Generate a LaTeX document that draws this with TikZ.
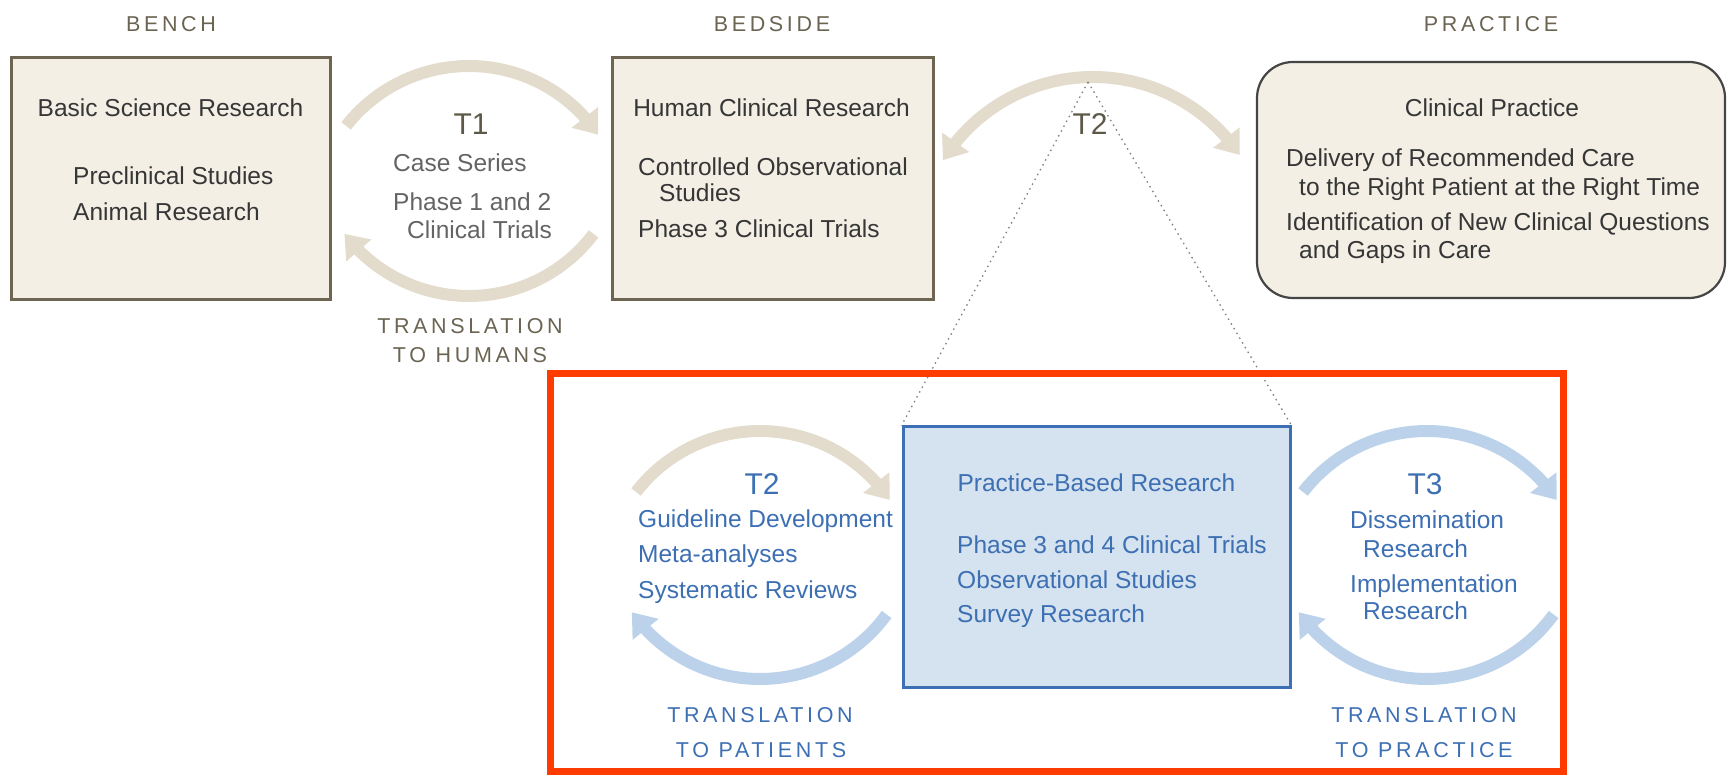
\documentclass[tikz,border=0pt]{standalone}
\usepackage{fontspec}
\setmainfont{Liberation Sans}
\newfontfamily\capsfont[LetterSpace=17]{Liberation Sans}
\usetikzlibrary{arrows.meta,bending}

\definecolor{tanfill}{HTML}{F3EFE5}
\definecolor{tanline}{HTML}{6E6452}
\definecolor{tanarrow}{HTML}{E3DCCD}
\definecolor{headbrown}{HTML}{6B6452}
\definecolor{tlabel}{HTML}{5D5848}
\definecolor{boxtext}{HTML}{363636}
\definecolor{cycletext}{HTML}{646464}
\definecolor{cpline}{HTML}{454545}
\definecolor{bluefill}{HTML}{D5E2EF}
\definecolor{blueline}{HTML}{3C6FB4}
\definecolor{bluetext}{HTML}{3D6FB3}
\definecolor{bluearrow}{HTML}{BCD2EA}
\definecolor{redframe}{HTML}{FF3B00}

\tikzset{
  tanbox/.style={draw=tanline, fill=tanfill, line width=3pt, minimum height=242pt},
  bluebox/.style={draw=blueline, fill=bluefill, line width=3pt},
  txt/.style={inner sep=0pt, font=\fontsize{24.5}{29}\selectfont},
  headtxt/.style={inner sep=0pt, anchor=base, text=headbrown, font=\capsfont\fontsize{21.5}{26}\selectfont},
  tnum/.style={inner sep=0pt, anchor=base, font=\fontsize{30}{36}\selectfont},
  tanarc/.style={draw=tanarrow, line width=12pt, -{Triangle[length=22pt,width=32pt]}},
  bluearc/.style={draw=bluearrow, line width=12pt, -{Triangle[length=22pt,width=32pt]}},
  zoomline/.style={draw=gray, line width=1.3pt, dash pattern=on 1.5pt off 4pt}
}

\begin{document}
\begin{tikzpicture}[x=1pt,y=1pt]
\useasboundingbox (0,0) rectangle (1731,775);

% column heads
\node[headtxt] (bench) at (171,743) {BENCH};
\node[headtxt] (bedside) at (772,743) {BEDSIDE};
\node[headtxt] (practice) at (1491,743) {PRACTICE};

% upper boxes
\node[tanbox, minimum width=319pt] (bsr) at (170.5,596) {};
\node[txt, anchor=base, text=boxtext] (bsrtitle) at (170.5,658) {Basic Science Research};
\node[txt, anchor=base west, text=boxtext] (precl) at (73,590) {Preclinical Studies};
\node[txt, anchor=base west, text=boxtext] (animal) at (73,554) {Animal Research};

\node[tanbox, minimum width=321pt] (hcr) at (772.5,596) {};
\node[txt, anchor=base, text=boxtext] (hcrtitle) at (771.5,658) {Human Clinical Research};
\node[txt, anchor=base west, text=boxtext] (cos) at (638,599) {Controlled Observational};
\node[txt, anchor=base west, text=boxtext] (cos2) at (659,573) {Studies};
\node[txt, anchor=base west, text=boxtext] (ph3) at (638,537) {Phase 3 Clinical Trials};

\node[tanbox, draw=cpline, line width=2.2pt, rounded corners=36pt,
      minimum width=468pt, minimum height=236pt] (cp) at (1491,595) {};
\node[txt, anchor=base, text=boxtext] (cptitle) at (1492,658) {Clinical Practice};
\node[txt, anchor=base west, text=boxtext] (deliv) at (1286,608) {Delivery of Recommended Care};
\node[txt, anchor=base west, text=boxtext] (deliv2) at (1299,579) {to the Right Patient at the Right Time};
\node[txt, anchor=base west, text=boxtext] (ident) at (1286,544) {Identification of New Clinical Questions};
\node[txt, anchor=base west, text=boxtext] (ident2) at (1299,516) {and Gaps in Care};

% T1 cycle
\coordinate (t1up) at (469,553);
\coordinate (t1dn) at (469,635);
\draw[tanarc] (t1up) ++(142:156) arc[start angle=142, end angle=34, radius=156];
\draw[tanarc] (t1dn) ++(-37:156) arc[start angle=-37, end angle=-143, radius=156];
\node[tnum, text=tlabel] (tone) at (471,640) {T1};
\node[txt, anchor=base west, text=cycletext] (case) at (393,603) {Case Series};
\node[txt, anchor=base west, text=cycletext] (ph12) at (393,564) {Phase 1 and 2};
\node[txt, anchor=base west, text=cycletext] (ph12b) at (407,536) {Clinical Trials};
\node[headtxt] (trhum) at (470,441) {TRANSLATION};
\node[headtxt] (trhum2) at (470,412) {TO HUMANS};

% T2 bow between bedside and practice
\coordinate (t2top) at (1093,521);
\draw[tanarc, {Triangle[length=22pt,width=32pt]}-{Triangle[length=22pt,width=32pt]}]
  (t2top) ++(148:177) arc[start angle=148, end angle=34, radius=177];
\node[tnum, text=tlabel] (ttwo) at (1090,640) {T2};

% lower blue box
\node[bluebox, minimum width=387pt, minimum height=261pt] (pbr) at (1096.5,217.5) {};
\node[txt, anchor=base, text=bluetext] (pbrtitle) at (1096.5,283) {Practice-Based Research};
\node[txt, anchor=base west, text=bluetext] (ph34) at (957,221) {Phase 3 and 4 Clinical Trials};
\node[txt, anchor=base west, text=bluetext] (obs) at (957,186) {Observational Studies};
\node[txt, anchor=base west, text=bluetext] (survey) at (957,152) {Survey Research};

% zoom lines
\coordinate (apex) at (1088,693);
\draw[zoomline] (apex) -- (pbr.north west);
\draw[zoomline] (apex) -- (pbr.north east);

% T2 cycle (lower)
\coordinate (t2up) at (760,187.5);
\coordinate (t2dn) at (760,252.5);
\draw[tanarc] (t2up) ++(142.4:156.5) arc[start angle=142.4, end angle=34, radius=156.5];
\draw[bluearc] (t2dn) ++(-36:156.5) arc[start angle=-36, end angle=-145, radius=156.5];
\node[tnum, text=bluetext] (ttwob) at (762,280) {T2};
\node[txt, anchor=base west, text=bluetext] (guide) at (638,247) {Guideline Development};
\node[txt, anchor=base west, text=bluetext] (meta) at (638,212) {Meta-analyses};
\node[txt, anchor=base west, text=bluetext] (sysrev) at (638,176) {Systematic Reviews};
\node[headtxt, text=bluetext] (trpat) at (760,52) {TRANSLATION};
\node[headtxt, text=bluetext] (trpat2) at (761,17) {TO PATIENTS};

% T3 cycle
\coordinate (t3up) at (1427,187.5);
\coordinate (t3dn) at (1427,252.5);
\draw[bluearc] (t3up) ++(142.4:156.5) arc[start angle=142.4, end angle=34, radius=156.5];
\draw[bluearc] (t3dn) ++(-36:156.5) arc[start angle=-36, end angle=-145, radius=156.5];
\node[tnum, text=bluetext] (tthree) at (1425,280) {T3};
\node[txt, anchor=base west, text=bluetext] (dissem) at (1350,246) {Dissemination};
\node[txt, anchor=base west, text=bluetext] (dissem2) at (1363,217) {Research};
\node[txt, anchor=base west, text=bluetext] (impl) at (1350,182) {Implementation};
\node[txt, anchor=base west, text=bluetext] (impl2) at (1363,155) {Research};
\node[headtxt, text=bluetext] (trpra) at (1424,52) {TRANSLATION};
\node[headtxt, text=bluetext] (trpra2) at (1424,17) {TO PRACTICE};

% highlight frame
\draw[redframe, line width=7pt] (550,3) rectangle (1563,401);
\end{tikzpicture}
\end{document}
